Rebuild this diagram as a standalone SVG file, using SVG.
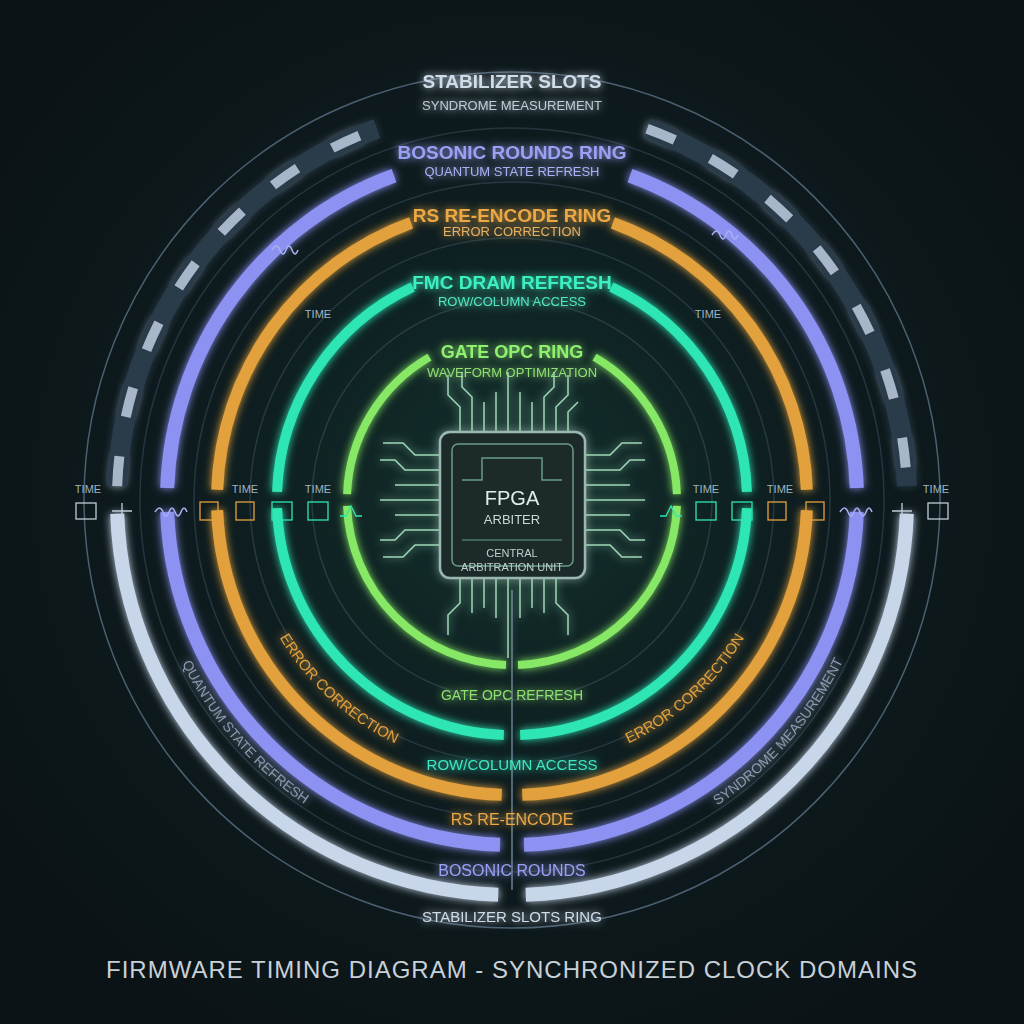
<svg xmlns="http://www.w3.org/2000/svg" width="1024" height="1024" viewBox="0 0 1024 1024">
<defs>
<radialGradient id="bg" cx="50%" cy="48%" r="60%"><stop offset="0" stop-color="#12302c"/><stop offset="0.5" stop-color="#0e1c1f"/><stop offset="1" stop-color="#0b1316"/></radialGradient>
<filter id="glow" x="-20%" y="-20%" width="140%" height="140%"><feGaussianBlur stdDeviation="4" result="b"/><feMerge><feMergeNode in="b"/><feMergeNode in="SourceGraphic"/></feMerge></filter>
<path id="pQL" d="M170.8 638A368 368 0 0 0 328 818.7"/>
<path id="pSR" d="M696 818.7A368 368 0 0 0 853.2 638"/>
<path id="pEL" d="M278.2 635A270 270 0 0 0 397.9 744.7"/>
<path id="pER" d="M626.1 744.7A270 270 0 0 0 745.8 635"/>
</defs>
<style>
.t{font-family:"Liberation Sans",Arial,sans-serif;text-anchor:middle}
.ring{fill:none;stroke-linecap:butt}
.stab{stroke:#c8d6ea}.bos{stroke:#8d92f2}.rs{stroke:#e3a13e}.fmc{stroke:#2ee6b4}.gate{stroke:#86e865}
.thin{fill:none;stroke:#4a6070;stroke-width:1.5}
.pin{stroke:#9fd8b8;stroke-width:1.5;fill:none}
.small{font-size:11px;fill:#a0b4c0}
</style>
<rect width="1024" height="1024" fill="url(#bg)"/>
<g id="guides">
<circle cx="512" cy="500" r="428" class="thin"/>
<circle cx="512" cy="500" r="372" class="thin" stroke-opacity="0.4"/>
<circle cx="512" cy="500" r="318" class="thin" stroke-opacity="0.4"/>
<circle cx="512" cy="500" r="262" class="thin" stroke-opacity="0.4"/>
<circle cx="512" cy="500" r="200" class="thin" stroke-opacity="0.4"/>
<line x1="512" y1="590" x2="512" y2="890" stroke="#6a8090" stroke-width="1.5"/>
</g>
<g id="stabilizer-ring" filter="url(#glow)">
<path class="ring" stroke="#2a3a4a" stroke-width="20" d="M117.2 486.2A395 395 0 0 1 376.9 128.7M647.1 128.7A395 395 0 0 1 906.8 486.2"/>
<path class="ring stab" stroke-width="10" stroke-dasharray="30 40" stroke-opacity="0.8" d="M117.2 486.2A395 395 0 0 1 376.9 128.7M647.1 128.7A395 395 0 0 1 906.8 486.2"/>
<path class="ring stab" stroke-width="14" d="M498.2 894.8A395 395 0 0 1 117.2 513.8M906.8 513.8A395 395 0 0 1 525.8 894.8"/>
<text class="t" x="512" y="88" font-size="19" font-weight="bold" fill="#d0dcea">STABILIZER SLOTS</text>
<text class="t" x="512" y="110" font-size="13" fill="#c0ccd8">SYNDROME MEASUREMENT</text>
<text class="t" x="512" y="922" font-size="15" fill="#d0dcea">STABILIZER SLOTS RING</text>
<text class="t" font-size="14" fill="#8a9ab0"><textPath href="#pQL" startOffset="50%">QUANTUM STATE REFRESH</textPath></text>
<text class="t" font-size="14" fill="#8a9ab0"><textPath href="#pSR" startOffset="50%">SYNDROME MEASUREMENT</textPath></text>
</g>
<g id="bosonic-ring" filter="url(#glow)">
<path class="ring bos" stroke-width="14" d="M167.2 488A345 345 0 0 1 394 175.7M630 175.7A345 345 0 0 1 856.8 488M500 844.8A345 345 0 0 1 167.2 512M856.8 512A345 345 0 0 1 524 844.8"/>
<text class="t" x="512" y="159" font-size="19" font-weight="bold" fill="#9aa0f4">BOSONIC ROUNDS RING</text>
<text class="t" x="512" y="176" font-size="13" fill="#aab0f4">QUANTUM STATE REFRESH</text>
<text class="t" x="512" y="876" font-size="16" fill="#9aa0f4">BOSONIC ROUNDS</text>
</g>
<g id="rs-ring" filter="url(#glow)">
<path class="ring rs" stroke-width="12" d="M217.2 489.7A295 295 0 0 1 411.1 222.8M612.9 222.8A295 295 0 0 1 806.8 489.7M501.7 794.8A295 295 0 0 1 217.2 510.3M806.8 510.3A295 295 0 0 1 522.3 794.8"/>
<text class="t" x="512" y="222" font-size="19" font-weight="bold" fill="#eba845">RS RE-ENCODE RING</text>
<text class="t" x="512" y="236" font-size="13" fill="#e8b060">ERROR CORRECTION</text>
<text class="t" x="512" y="825" font-size="16" fill="#eba845">RS RE-ENCODE</text>
<text class="t" font-size="15" fill="#e3a13e"><textPath href="#pEL" startOffset="50%">ERROR CORRECTION</textPath></text>
<text class="t" font-size="15" fill="#e3a13e"><textPath href="#pER" startOffset="50%">ERROR CORRECTION</textPath></text>
</g>
<g id="fmc-ring" filter="url(#glow)">
<path class="ring fmc" stroke-width="10" d="M277.1 491.8A235 235 0 0 1 412.7 287M611.3 287A235 235 0 0 1 746.9 491.8M503.8 734.9A235 235 0 0 1 277.1 508.2M746.9 508.2A235 235 0 0 1 520.2 734.9"/>
<text class="t" x="512" y="289" font-size="19" font-weight="bold" fill="#3cf0c0">FMC DRAM REFRESH</text>
<text class="t" x="512" y="306" font-size="13" fill="#50e8c0">ROW/COLUMN ACCESS</text>
<text class="t" x="512" y="770" font-size="15" fill="#3ce8c0">ROW/COLUMN ACCESS</text>
</g>
<g id="gate-ring" filter="url(#glow)">
<path class="ring gate" stroke-width="8" d="M347.1 494.2A165 165 0 0 1 429.5 357.1M594.5 357.1A165 165 0 0 1 676.9 494.2M506 664.9A165 165 0 0 1 347.1 505.8M676.9 505.8A165 165 0 0 1 518 664.9"/>
<text class="t" x="512" y="358" font-size="18" font-weight="bold" fill="#90f070">GATE OPC RING</text>
<text class="t" x="512" y="377" font-size="13" fill="#90e070">WAVEFORM OPTIMIZATION</text>
<text class="t" x="512" y="700" font-size="14" fill="#90e070">GATE OPC REFRESH</text>
</g>
<g id="time-labels">
<text class="t small" x="88" y="493">TIME</text><text class="t small" x="936" y="493">TIME</text>
<text class="t small" x="245" y="493">TIME</text><text class="t small" x="780" y="493">TIME</text>
<text class="t small" x="318" y="493">TIME</text><text class="t small" x="706" y="493">TIME</text>
<text class="t small" x="318" y="318">TIME</text><text class="t small" x="708" y="318">TIME</text>
<path d="M155 512q5-8 8 0t6 0 6 0 6 0 6 0M840 512q5-8 8 0t6 0 6 0 6 0 6 0M272 250q5-8 8 0t6 0 6 0 6 0M712 235q5-8 8 0t6 0 6 0 6 0" stroke="#a8b0f0" fill="none" stroke-width="1.5"/>
<g fill="none" stroke="#c0ccd8" stroke-width="1.3"><rect x="76" y="503" width="20" height="16"/><rect x="928" y="503" width="20" height="16"/><path d="M112 511h20M122 503v16M892 511h20M902 503v16"/></g>
<g fill="none" stroke="#e3a13e" stroke-width="1.3"><rect x="200" y="502" width="18" height="18"/><rect x="236" y="502" width="18" height="18"/><rect x="768" y="502" width="18" height="18"/><rect x="806" y="502" width="18" height="18"/></g>
<g fill="none" stroke="#2ee6b4" stroke-width="1.3"><rect x="272" y="502" width="20" height="18"/><rect x="308" y="502" width="20" height="18"/><rect x="696" y="502" width="20" height="18"/><rect x="732" y="502" width="20" height="18"/><path d="M340 516h6l5-10 5 10h6M660 516h6l5-10 5 10h6"/></g>
</g>
<g id="fpga" filter="url(#glow)">
<g class="pin">
<path d="M460 432v-25l-12-12v-20M472 432v-35l-10-10v-15M484 432v-30M496 432v-40M508 432v-60M520 432v-40M532 432v-30M544 432v-35l10-10v-15M556 432v-25l12-12v-20M568 432v-20l10-10"/>
<path d="M460 578v25l-12 12v20M472 578v35M484 578v30M496 578v40M508 578v80M520 578v40M532 578v30M544 578v35M556 578v25l12 12v20"/>
<path d="M440 455h-25l-12-12h-20M440 470h-35l-10-10h-15M440 485h-45M440 500h-60M440 515h-45M440 530h-35l-10 10h-15M440 545h-25l-12 12h-20"/>
<path d="M585 455h25l12-12h20M585 470h35l10-10h15M585 485h45M585 500h60M585 515h45M585 530h35l10 10h15M585 545h25l12 12h20"/>
</g>
<rect x="440" y="432" width="145" height="146" rx="10" fill="#1a2a2c" stroke="#9ab8b0" stroke-width="2.5"/>
<rect x="452" y="444" width="121" height="122" rx="6" fill="none" stroke="#6a9a8c" stroke-width="1.5"/>
<path d="M462 480h20v-22h60v22h20" fill="none" stroke="#6a9a8c" stroke-width="1.5"/>
<text class="t" x="512" y="505" font-size="20" fill="#e0ece8">FPGA</text>
<text class="t" x="512" y="524" font-size="13" fill="#c8d8d4">ARBITER</text>
<line x1="462" y1="540" x2="562" y2="540" stroke="#6a9a8c"/>
<text class="t" x="512" y="557" font-size="11" fill="#c0d0cc">CENTRAL</text>
<text class="t" x="512" y="571" font-size="11" fill="#c0d0cc">ARBITRATION UNIT</text>
</g>
<text class="t" x="512" y="978" font-size="24" fill="#c8d0d8" letter-spacing="1">FIRMWARE TIMING DIAGRAM - SYNCHRONIZED CLOCK DOMAINS</text>
</svg>
